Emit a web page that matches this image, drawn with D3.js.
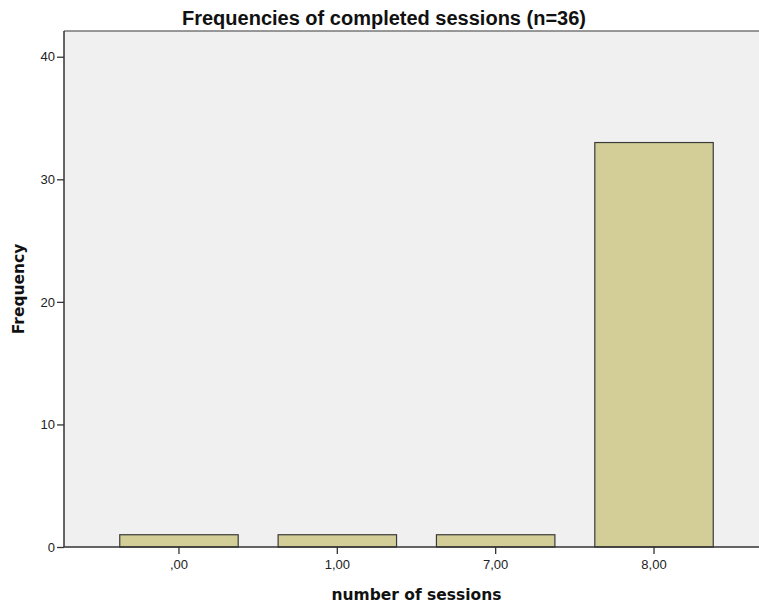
<!DOCTYPE html>
<html><head><meta charset="utf-8">
<script src="https://cdn.jsdelivr.net/npm/d3@7"></script>
<style>html,body{margin:0;background:#fff;overflow:hidden}svg{display:block}</style>
</head><body>
<script>
const categories = [",00", "1,00", "7,00", "8,00"];
const frequencies = [1, 1, 1, 33];
const yTicks = [0, 10, 20, 30, 40];
const title = "Frequencies of completed sessions (n=36)";
const xLabel = "number of sessions";
const yLabel = "Frequency";

const W = 759, H = 604;
const plot = {left: 64, right: 769, top: 31, bottom: 547};
const svg = d3.select("body").append("svg").attr("width", W).attr("height", H);

const x = d3.scaleBand().domain(categories)
  .range([99.8, 733.2]).paddingInner(0.252).paddingOuter(0.126);
const y = d3.scaleLinear().domain([0, 42.1]).range([plot.bottom, plot.top]);

svg.append("rect").attr("x", plot.left).attr("y", plot.top)
  .attr("width", W - plot.left).attr("height", plot.bottom - plot.top)
  .attr("fill", "#f0f0f0");
svg.append("line").attr("x1", plot.left).attr("x2", W).attr("y1", plot.top).attr("y2", plot.top)
  .attr("stroke", "#777").attr("stroke-width", 1.5);

svg.append("g").selectAll("rect").data(categories).join("rect")
  .attr("x", d => x(d)).attr("width", x.bandwidth())
  .attr("y", (d, i) => y(frequencies[i]))
  .attr("height", (d, i) => plot.bottom - y(frequencies[i]))
  .attr("fill", "#d3ce97").attr("stroke", "#3a3a3a").attr("stroke-width", 1.2);

const yAxis = svg.append("g").attr("transform", `translate(${plot.left},0)`)
  .call(d3.axisLeft(y).tickValues(yTicks).tickSize(7).tickPadding(2).tickSizeOuter(0));
const xAxis = svg.append("g").attr("transform", `translate(0,${plot.bottom})`)
  .call(d3.axisBottom(x).tickSize(7).tickPadding(6).tickSizeOuter(0));
[yAxis, xAxis].forEach(a => {
  a.select(".domain").attr("stroke", "#333").attr("stroke-width", 1.5);
  a.selectAll(".tick line").attr("stroke", "#333").attr("stroke-width", 1.3);
  a.selectAll("text").attr("font-family", "Arial, 'Liberation Sans', sans-serif")
    .attr("font-size", 13).attr("fill", "#222");
});
yAxis.select(".domain").attr("d", `M0,${plot.top}V${plot.bottom}`);
xAxis.select(".domain").attr("d", `M${plot.left},0H${W}`);

svg.append("text").attr("x", 384).attr("y", 25).attr("text-anchor", "middle")
  .attr("font-family", "Arial, 'Liberation Sans', sans-serif").attr("font-weight", "bold")
  .attr("font-size", 20).attr("fill", "#111").text(title);
svg.append("text").attr("x", 416.5).attr("y", 600).attr("text-anchor", "middle")
  .attr("font-family", "'DejaVu Sans', sans-serif").attr("font-weight", "bold")
  .attr("font-size", 15.5).attr("fill", "#111").text(xLabel);
svg.append("text").attr("transform", "translate(24,289) rotate(-90)").attr("text-anchor", "middle")
  .attr("font-family", "'DejaVu Sans', sans-serif").attr("font-weight", "bold")
  .attr("font-size", 15.5).attr("fill", "#111").text(yLabel);
</script>
</body></html>
